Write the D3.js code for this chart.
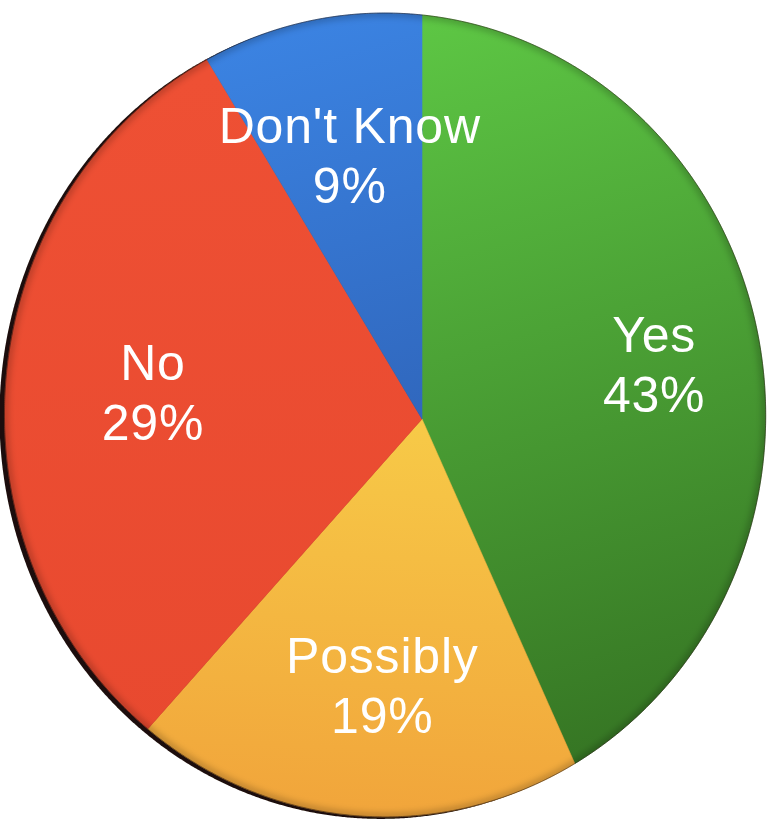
<!DOCTYPE html>
<html lang="en">
<head>
  <meta charset="UTF-8">
  <title>Pie chart</title>
  <style>
    body { margin: 0; background: #fff; }
    .label {
      fill: #fff;
      font-family: Helvetica, "Liberation Sans", Arial, sans-serif;
      font-size: 50px;
      letter-spacing: 0.8px;
      text-anchor: middle;
    }
  </style>
  <script src="https://d3js.org/d3.v7.min.js"></script>
</head>
<body>
  <svg id="chart" width="775" height="833"></svg>

  <script>
    // Data
    const categories = ["Yes", "Possibly", "No", "Don't Know"];
    const values = [43, 19, 29, 9];
    const topColors = ["#5dc644", "#f7c947", "#ee5034", "#3b83e2"];
    const bottomColors = ["#357423", "#f1a53b", "#e8492f", "#3067bd"];

    const width = 775, height = 833;

    // the disc is drawn tilted, so the pie is projected with a little perspective
    const cx = 422, cy = 419;
    const RX = 377, RY = 400, K = 0.097, M = 0.01;
    function proj(f, a) {
      const u = f * Math.sin(a), v = -f * Math.cos(a);
      const w = 1 + K * u + M * v;
      return [cx + RX * u / w, cy + RY * v / w];
    }

    const svg = d3.select("#chart");
    const defs = svg.append("defs");

    const pie = d3.pie().sort(null).value(d => d.value);
    const arcs = pie(categories.map((c, i) => ({name: c, value: values[i], i: i})));

    // gradient end points for each slice (screen space)
    const gradPts = [
      [[430, 20], [640, 760]],
      [[420, 430], [400, 815]],
      [[150, 80], [200, 760]],
      [[300, 20], [420, 420]]
    ];
    arcs.forEach((d, i) => {
      const g = defs.append("linearGradient")
        .attr("id", "grad" + i)
        .attr("gradientUnits", "userSpaceOnUse")
        .attr("x1", gradPts[i][0][0]).attr("y1", gradPts[i][0][1])
        .attr("x2", gradPts[i][1][0]).attr("y2", gradPts[i][1][1]);
      g.append("stop").attr("offset", "0%").attr("stop-color", topColors[i]);
      g.append("stop").attr("offset", "100%").attr("stop-color", bottomColors[i]);
    });

    function slicePath(a0, a1) {
      const p = d3.path();
      p.moveTo(cx, cy);
      const n = Math.max(8, Math.ceil((a1 - a0) / 0.005));
      for (let j = 0; j <= n; j++) {
        const pt = proj(1, a0 + (a1 - a0) * j / n);
        p.lineTo(pt[0], pt[1]);
      }
      p.closePath();
      return p.toString();
    }

    function outlinePath(dx, dy) {
      const p = d3.path();
      const n = 1440;
      for (let j = 0; j <= n; j++) {
        const pt = proj(1, 2 * Math.PI * j / n);
        if (j === 0) p.moveTo(pt[0] + dx, pt[1] + dy); else p.lineTo(pt[0] + dx, pt[1] + dy);
      }
      p.closePath();
      return p.toString();
    }

    const blur1 = defs.append("filter").attr("id", "blur1")
      .attr("x", "-10%").attr("y", "-10%").attr("width", "120%").attr("height", "120%");
    blur1.append("feGaussianBlur").attr("stdDeviation", 0.6);
    const blur2 = defs.append("filter").attr("id", "blur2")
      .attr("x", "-10%").attr("y", "-10%").attr("width", "120%").attr("height", "120%");
    blur2.append("feGaussianBlur").attr("stdDeviation", 3);

    defs.append("clipPath").attr("id", "face")
      .append("path").attr("d", outlinePath(0, 0));

    // side of the disc
    svg.append("path")
      .attr("d", outlinePath(-5, 2))
      .attr("fill", "#1c0d09")
      .attr("filter", "url(#blur1)");

    // slices
    svg.append("g").selectAll("path")
      .data(arcs)
      .join("path")
      .attr("d", d => slicePath(d.startAngle, d.endAngle))
      .attr("fill", (d, i) => `url(#grad${i})`)
      .attr("stroke", (d, i) => `url(#grad${i})`)
      .attr("stroke-width", 0.6);

    // soft darkening along the rim
    svg.append("g").attr("clip-path", "url(#face)")
      .append("path")
      .attr("d", outlinePath(0, 0))
      .attr("fill", "none")
      .attr("stroke", "rgba(0,0,0,0.2)")
      .attr("stroke-width", 8)
      .attr("filter", "url(#blur2)");

    svg.append("path")
      .attr("d", outlinePath(0, 0))
      .attr("fill", "none")
      .attr("stroke", "rgba(30,15,10,0.5)")
      .attr("stroke-width", 1);

    // labels
    const labels = svg.append("g").selectAll("text")
      .data(arcs)
      .join("text")
      .attr("class", "label")
      .attr("transform", d => {
        const p = proj(0.67, (d.startAngle + d.endAngle) / 2);
        return `translate(${p[0]},${p[1]})`;
      });
    labels.append("tspan").attr("x", 0).attr("y", -12).text(d => d.data.name);
    labels.append("tspan").attr("x", 0).attr("y", 48).text(d => d.data.value + "%");
  </script>
</body>
</html>
